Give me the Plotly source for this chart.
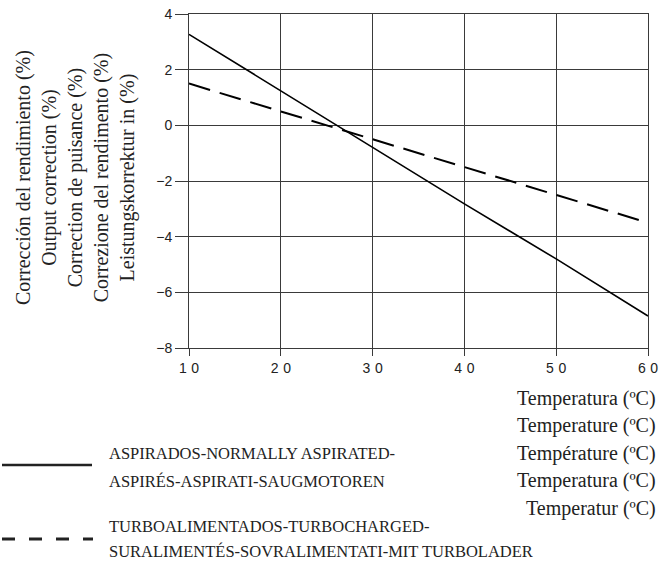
import plotly.graph_objects as go

# temperature (ºC) vs output correction (%)
temp_c = [10, 20, 30, 40, 50, 60]
aspirated = [3.27, 1.25, -0.8, -2.82, -4.8, -6.85]
turbo = [1.5, 0.5, -0.5, -1.5, -2.5, -3.5]

x_ticks = [10, 20, 30, 40, 50, 60]
y_ticks = [-8, -6, -4, -2, 0, 2, 4]

y_title = ["Corrección del rendimiento (%)", "Output correction (%)",
           "Correction de puisance (%)", "Correzione del rendimento (%)",
           "Leistungskorrektur in (%)"]
x_title = ["Temperatura (ºC)", "Temperature (ºC)", "Température (ºC)",
           "Temperatura (ºC)", "Temperatur (ºC)"]
leg_solid = ["ASPIRADOS-NORMALLY ASPIRATED-", "ASPIRÉS-ASPIRATI-SAUGMOTOREN"]
leg_dash = ["TURBOALIMENTADOS-TURBOCHARGED-", "SURALIMENTÉS-SOVRALIMENTATI-MIT TURBOLADER"]

W, H = 660, 563
# plot box in page pixels
X0, X1, Y0, Y1 = 189, 648, 14, 348
pw, ph = X1 - X0, Y1 - Y0


def px(x):
    return (x - X0) / pw


def py(y):
    return (Y1 - y) / ph


SERIF = "Liberation Serif, Times New Roman, serif"
SANS = "Liberation Sans, Arial, sans-serif"
GRID = "#3a3a3a"

fig = go.Figure()
fig.add_trace(go.Scatter(x=temp_c, y=aspirated, mode="lines",
                         line=dict(color="black", width=1.6)))
fig.add_trace(go.Scatter(x=temp_c, y=turbo, mode="lines",
                         line=dict(color="black", width=2, dash="22px,10px")))

ann = []
ann.append(dict(text="<br>".join(y_title), x=px(75), y=py(178), xref="paper", yref="paper",
                xanchor="center", yanchor="middle",
                textangle=-90, showarrow=False, align="center",
                font=dict(family=SERIF, size=20, color="#222")))
for i, t in enumerate(x_title):
    ann.append(dict(text=t, x=px(657), y=py(398 + i * 27.5), xref="paper", yref="paper",
                    xanchor="right", yanchor="middle", showarrow=False, borderpad=0,
                    font=dict(family=SERIF, size=20, color="#222")))
for i, t in enumerate(leg_solid):
    ann.append(dict(text=t, x=px(108), y=py(453 + i * 28), xref="paper", yref="paper",
                    xanchor="left", yanchor="middle", showarrow=False, borderpad=0,
                    font=dict(family=SERIF, size=16.5, color="#222")))
for i, t in enumerate(leg_dash):
    ann.append(dict(text=t, x=px(108), y=py(526 + i * 25), xref="paper", yref="paper",
                    xanchor="left", yanchor="middle", showarrow=False, borderpad=0,
                    font=dict(family=SERIF, size=16.5, color="#222")))

shapes = [
    dict(type="line", xref="paper", yref="paper", x0=px(2), x1=px(92), y0=py(465), y1=py(465),
         line=dict(color="#222", width=2.5)),
    dict(type="line", xref="paper", yref="paper", x0=px(2), x1=px(93), y0=py(539), y1=py(539),
         line=dict(color="#222", width=3, dash="13px,14px")),
]

axis_style = dict(showgrid=True, gridcolor=GRID, gridwidth=1,
                  showline=True, linecolor=GRID, linewidth=1, mirror=True,
                  ticks="outside", tickcolor=GRID, automargin=False,
                  ticklabeloverflow="allow", zeroline=False,
                  tickfont=dict(family=SANS, size=14, color="#222"))

fig.update_layout(
    width=W, height=H,
    margin=dict(l=X0, r=W - X1, t=Y0, b=H - Y1),
    plot_bgcolor="white", paper_bgcolor="white",
    showlegend=False,
    annotations=ann, shapes=shapes,
    xaxis=dict(range=[10, 60], tickvals=x_ticks,
               ticktext=["\u2004".join(str(v)) for v in x_ticks],
               ticklen=7, **axis_style),
    yaxis=dict(range=[-8, 4], tickvals=y_ticks, ticklen=13, **axis_style),
)

# page body has a default 8px margin; drop it so the figure fills the window
fig.write_html("out.html", config={"displayModeBar": False},
               post_script="document.body.style.margin='0';")
